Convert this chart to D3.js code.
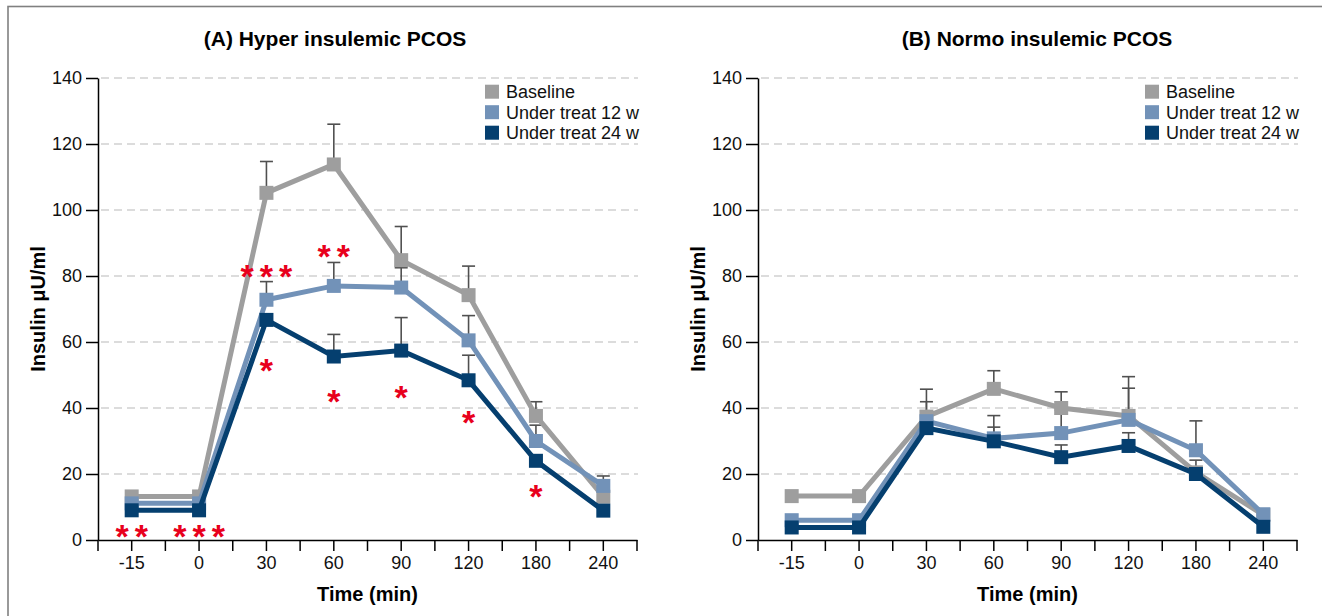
<!DOCTYPE html>
<html>
<head>
<meta charset="utf-8">
<script src="https://cdn.jsdelivr.net/npm/d3@7"></script>
<style>
  html, body { margin: 0; padding: 0; background: #fff; }
  svg { display: block; }
  text { font-family: "Liberation Sans", Arial, Helvetica, sans-serif; }
</style>
</head>
<body>
<svg id="chart" width="1322" height="616"></svg>
<script>
// ---------- data ----------
const categories = ["-15", "0", "30", "60", "90", "120", "180", "240"];
const seriesNames = ["Baseline", "Under treat 12 w", "Under treat 24 w"];
const yTicks = [0, 20, 40, 60, 80, 100, 120, 140];

// (A) Hyper insulemic PCOS
const hyperBaseline    = [13.2, 13.2, 105.2, 113.8, 84.8, 74.2, 37.6, 13.1];
const hyperBaselineErr = [0, 0, 9.5, 12.2, 10.2, 8.8, 4.3, 0];
const hyper12w         = [11.1, 11.1, 72.8, 77.0, 76.5, 60.5, 30.0, 16.4];
const hyper12wErr      = [0, 0, 5.5, 7.1, 6.0, 7.5, 4.8, 3.0];
const hyper24w         = [9.0, 9.0, 66.7, 55.6, 57.4, 48.4, 24.0, 8.9];
const hyper24wErr      = [0, 0, 0, 6.7, 10.0, 7.6, 0, 0];

// (B) Normo insulemic PCOS
const normoBaseline    = [13.3, 13.3, 37.4, 45.8, 40.0, 37.6, 20.5, 7.6];
const normoBaselineErr = [0, 0, 8.3, 5.5, 4.9, 11.9, 3.7, 0];
const normo12w         = [6.0, 6.0, 36.0, 30.8, 32.4, 36.4, 27.2, 7.8];
const normo12wErr      = [0, 0, 5.9, 6.9, 7.0, 9.6, 8.9, 0];
const normo24w         = [3.8, 3.8, 33.9, 29.9, 25.1, 28.5, 20.0, 4.0];
const normo24wErr      = [0, 0, 0, 4.3, 3.7, 4.0, 0, 0];

// significance marks (panel A)
const sigCategories = ["-15", "0", "30", "60", "30", "60", "90", "120", "180"];
const sigValues     = [3.6, 3.6, 82.3, 88.4, 54.0, 44.6, 45.7, 38.2, 15.7];
const sigMarks      = ["**", "***", "***", "**", "*", "*", "*", "*", "*"];

const seriesColors = ["#9e9e9e", "#7292b8", "#053f6f"];

// ---------- layout ----------
const svg = d3.select("#chart");
const plotTop = 78, plotBottom = 540;

// outer frame
svg.append("rect")
  .attr("x", 8).attr("y", 6.5).attr("width", 1400).attr("height", 700)
  .attr("fill", "none").attr("stroke", "#808080").attr("stroke-width", 1.6);

const panels = [
  {
    left: 98, right: 637, title: "(A) Hyper insulemic PCOS", titleX: 335,
    ylabX: 45, legendX: 485,
    values: [hyperBaseline, hyper12w, hyper24w],
    errs: [hyperBaselineErr, hyper12wErr, hyper24wErr],
    sig: true
  },
  {
    left: 758, right: 1297, title: "(B) Normo insulemic PCOS", titleX: 1037,
    ylabX: 705, legendX: 1145,
    values: [normoBaseline, normo12w, normo24w],
    errs: [normoBaselineErr, normo12wErr, normo24wErr],
    sig: false
  }
];

const y = d3.scaleLinear().domain([0, 140]).range([plotBottom, plotTop]);

panels.forEach(p => {
  const g = svg.append("g");
  const x = d3.scaleBand().domain(categories).range([p.left, p.right]).padding(0);
  const cx = c => x(c) + x.bandwidth() / 2;

  // gridlines
  g.append("g").selectAll("line")
    .data(yTicks.filter(t => t > 0))
    .join("line")
    .attr("x1", p.left + 3).attr("x2", p.right + 1)
    .attr("y1", d => y(d)).attr("y2", d => y(d))
    .attr("stroke", "#b9b9b9").attr("stroke-width", 1.2)
    .attr("stroke-dasharray", "8,5");

  // y axis
  const ya = g.append("g")
    .attr("transform", `translate(${p.left},0)`)
    .call(d3.axisLeft(y).tickValues(yTicks).tickSize(12).tickSizeOuter(0).tickPadding(4));
  ya.selectAll("path, line").attr("stroke", "#000").attr("stroke-width", 1.5);
  ya.selectAll("text").attr("font-size", 18).attr("fill", "#111")
    .style("font-family", '"Liberation Sans", Arial, sans-serif');

  // x axis
  const xa = g.append("g")
    .attr("transform", `translate(0,${plotBottom})`)
    .call(d3.axisBottom(x).tickSize(11).tickSizeOuter(0).tickPadding(5));
  xa.selectAll("path, line").attr("stroke", "#000").attr("stroke-width", 1.5);
  xa.selectAll("text").attr("font-size", 18).attr("fill", "#111")
    .style("font-family", '"Liberation Sans", Arial, sans-serif');
  // boundary ticks
  const bounds = categories.map(c => x(c)).concat([x.range()[1]]);
  g.append("g").selectAll("line").data(bounds).join("line")
    .attr("x1", d => d).attr("x2", d => d)
    .attr("y1", plotBottom).attr("y2", plotBottom + 11)
    .attr("stroke", "#000").attr("stroke-width", 1.5);

  // error bars (bottom layer)
  p.values.forEach((vals, si) => {
    const eg = g.append("g");
    categories.forEach((c, i) => {
      const e = p.errs[si][i];
      if (!e) return;
      const xx = cx(c);
      eg.append("line").attr("x1", xx).attr("x2", xx)
        .attr("y1", y(vals[i])).attr("y2", y(vals[i] + e))
        .attr("stroke", "#505050").attr("stroke-width", 1.6);
      eg.append("line").attr("x1", xx - 6.5).attr("x2", xx + 6.5)
        .attr("y1", y(vals[i] + e)).attr("y2", y(vals[i] + e))
        .attr("stroke", "#505050").attr("stroke-width", 1.6);
    });
  });

  // series lines + markers
  const line = d3.line().x((d, i) => cx(categories[i])).y(d => y(d));
  p.values.forEach((vals, si) => {
    g.append("path").datum(vals)
      .attr("d", line)
      .attr("fill", "none")
      .attr("stroke", seriesColors[si])
      .attr("stroke-width", 5);
    g.append("g").selectAll("rect").data(vals).join("rect")
      .attr("x", (d, i) => cx(categories[i]) - 7)
      .attr("y", d => y(d) - 7)
      .attr("width", 14).attr("height", 14)
      .attr("fill", seriesColors[si]);
  });

  // significance marks
  if (p.sig) {
    const fs = 34;
    g.append("g").selectAll("text").data(sigMarks).join("text")
      .attr("x", (d, i) => cx(sigCategories[i]) + 3)
      .attr("y", (d, i) => y(sigValues[i]) + fs * 0.58)
      .attr("text-anchor", "middle")
      .attr("font-size", fs)
      .attr("font-weight", "bold")
      .attr("letter-spacing", 6)
      .attr("fill", "#e8001c")
      .text(d => d);
  }

  // legend
  const lg = g.append("g");
  seriesNames.forEach((n, i) => {
    const ry = 91.7 + i * 20.5;
    lg.append("rect").attr("x", p.legendX).attr("y", ry - 7)
      .attr("width", 14).attr("height", 14).attr("fill", seriesColors[i]);
    lg.append("text").attr("x", p.legendX + 21).attr("y", ry + 6.5)
      .attr("font-size", 18).attr("fill", "#111").text(n);
  });

  // title
  g.append("text").attr("x", p.titleX).attr("y", 46)
    .attr("text-anchor", "middle").attr("font-size", 21)
    .attr("font-weight", "bold").attr("fill", "#000").text(p.title);

  // axis titles
  g.append("text").attr("x", (p.left + p.right) / 2).attr("y", 601)
    .attr("text-anchor", "middle").attr("font-size", 20)
    .attr("font-weight", "bold").attr("fill", "#000").text("Time (min)");
  g.append("text")
    .attr("transform", `translate(${p.ylabX},${(plotTop + plotBottom) / 2}) rotate(-90)`)
    .attr("text-anchor", "middle").attr("font-size", 20)
    .attr("font-weight", "bold").attr("fill", "#000").text("Insulin μU/ml");
});
</script>
</body>
</html>
